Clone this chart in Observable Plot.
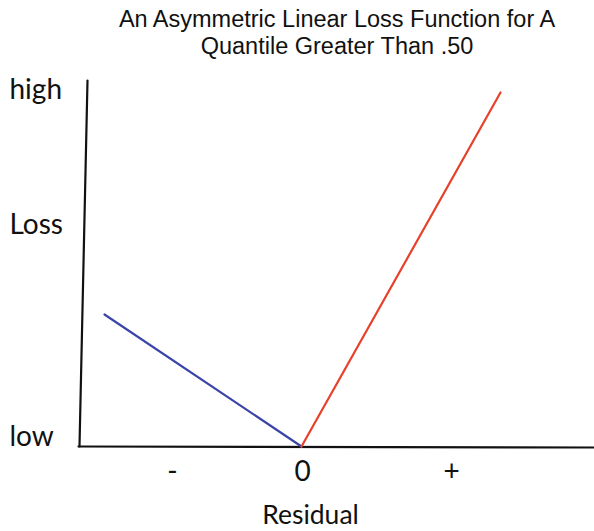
<!DOCTYPE html>
<html>
<head>
<meta charset="utf-8">
<script src="https://cdn.jsdelivr.net/npm/d3@7"></script>
<script src="https://cdn.jsdelivr.net/npm/@observablehq/plot@0.6"></script>
<style>
  html, body { margin: 0; padding: 0; background: #fff; }
  #title { width: 594px; height: 64px; box-sizing: border-box; padding-top: 6px; padding-left: 80px;
    font-family: "Liberation Sans", Arial, sans-serif; font-size: 23.5px; line-height: 27px; text-align: center; color: #111; }
  svg { display: block; }
</style>
</head>
<body>
<div id="title">An Asymmetric Linear Loss Function for A<br>Quantile Greater Than .50</div>
<div id="chart"></div>
<script>
// Conceptual data (arbitrary units)
const blueResidual = [-1.97, 0];
const blueLoss = [1.32, 0];
const redResidual = [0, 1.99];
const redLoss = [0, 3.54];

// Hand-drawn axes (slightly slanted in the original)
const yAxisResidual = [-2.14, -2.22];
const yAxisLoss = [3.66, 0.0];
const xAxisResidual = [-2.23, 2.93];
const xAxisLoss = [0.0, -0.01];

// Tick labels
const xTickValues = [-1.29, 0.01, 1.50];
const xTickLabels = ["-", "0", "+"];
const yTickValues = [3.56, 2.21, 0.09];
const yTickLabels = ["high", "Loss", "low"];
const xTitle = "Residual";

const blue = blueResidual.map((r, i) => ({r, l: blueLoss[i]}));
const red = redResidual.map((r, i) => ({r, l: redLoss[i]}));
const yAx = yAxisResidual.map((r, i) => ({r, l: yAxisLoss[i]}));
const xAx = xAxisResidual.map((r, i) => ({r, l: xAxisLoss[i]}));
const xt = xTickValues.map((v, i) => ({r: v, l: -0.26, t: xTickLabels[i]}));
const yt = yTickValues.map((v, i) => ({r: -2.92, l: v, t: yTickLabels[i]}));

const font = "Lato, 'Open Sans', sans-serif";

const chart = Plot.plot({
  width: 594,
  height: 467,
  margin: 0,
  x: {domain: [-3.01, 2.93], axis: null},
  y: {domain: [-0.85, 3.82], axis: null},
  marks: [
    Plot.line(yAx, {x: "r", y: "l", stroke: "#111", strokeWidth: 2.2}),
    Plot.line(xAx, {x: "r", y: "l", stroke: "#111", strokeWidth: 2.2}),
    Plot.line(blue, {x: "r", y: "l", stroke: "#3a44a8", strokeWidth: 2.2}),
    Plot.line(red, {x: "r", y: "l", stroke: "#e8412a", strokeWidth: 2.2}),
    Plot.text(xt, {x: "r", y: "l", text: "t", fontSize: 28, fontFamily: font, fill: "#111"}),
    Plot.text(yt, {x: "r", y: "l", text: "t", fontSize: 28, fontFamily: font, fill: "#111", textAnchor: "start"}),
    Plot.text([xTitle], {x: 0.09, y: -0.69, text: d => d, fontSize: 26.5, fontFamily: font, fill: "#111"})
  ]
});
document.getElementById("chart").appendChild(chart);
</script>
</body>
</html>
